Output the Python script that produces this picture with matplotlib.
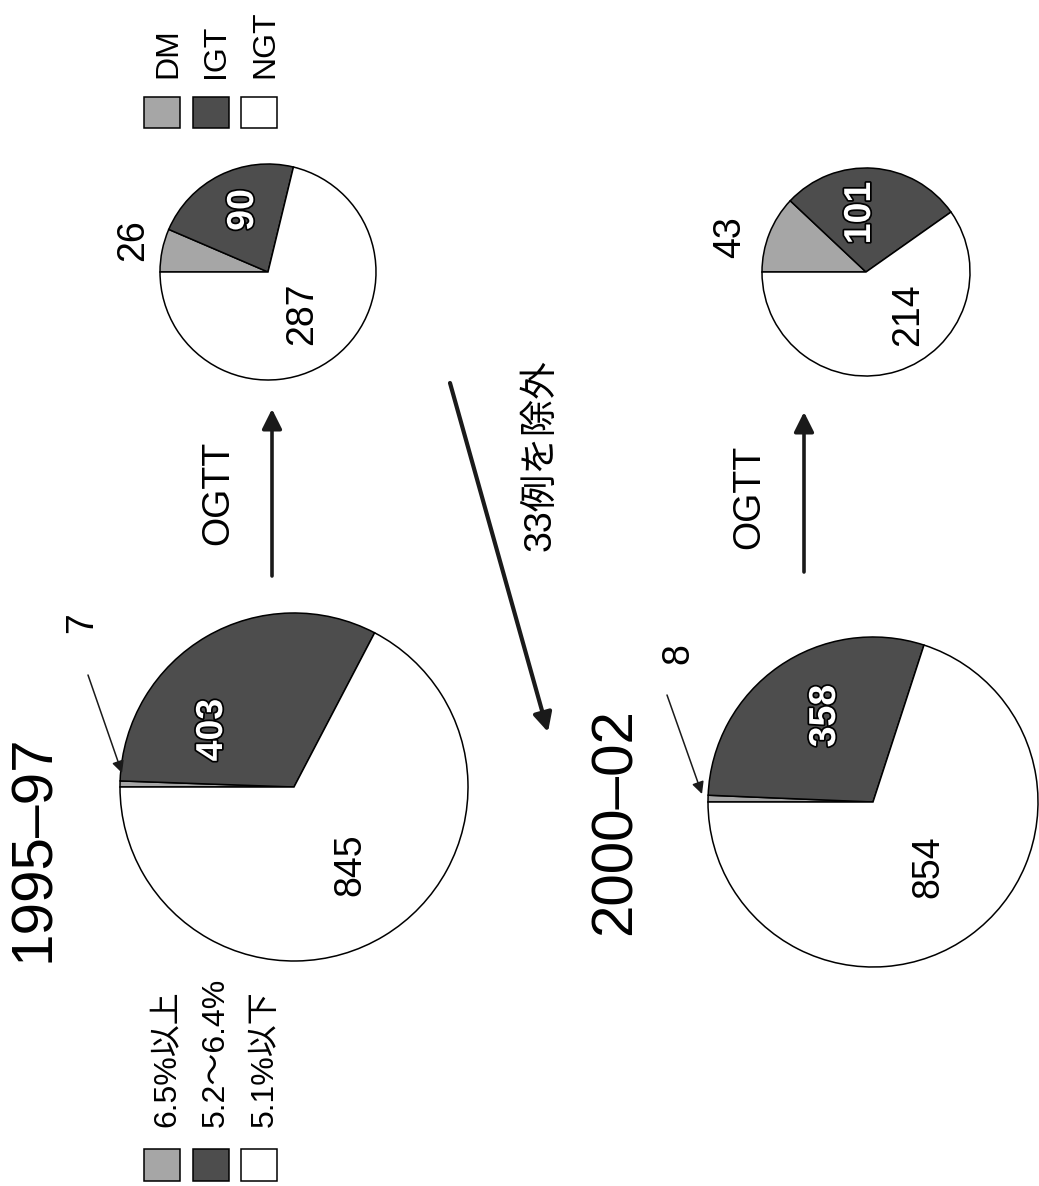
import matplotlib
matplotlib.use("Agg")
import matplotlib.pyplot as plt
import matplotlib.patheffects as pe
from matplotlib.patches import Rectangle

plt.rcParams['font.family'] = ['Liberation Sans', 'Noto Sans CJK JP', 'DejaVu Sans']

# data
categories = ["DM", "IGT", "NGT"]
hba1c_9597 = [7, 403, 845]
ogtt_9597 = [26, 90, 287]
hba1c_0002 = [8, 358, 854]
ogtt_0002 = [43, 101, 214]
hba1c_labels = ["6.5%以上", "5.2〜6.4%", "5.1%以下"]
titles = ["1995–97", "2000–02"]
excluded = "33例を除外"
test_name = "OGTT"

colors = ["#a6a6a6", "#4d4d4d", "#ffffff"]

W, H = 1039, 1186
fig = plt.figure(figsize=(W / 100, H / 100), dpi=100)


def pie_at(vals, cx, cy, r):
    pad = 1.03
    a = fig.add_axes([(cx - r * pad) / W, 1 - (cy + r * pad) / H,
                      2 * r * pad / W, 2 * r * pad / H])
    wedges, _ = a.pie(vals, colors=colors, startangle=180, counterclock=False,
                      wedgeprops=dict(edgecolor="black", linewidth=1.1))
    for w in wedges:
        w.set_clip_on(False)
    a.set_aspect("auto")
    a.set_xlim(-pad, pad)
    a.set_ylim(-pad, pad)
    a.axis("off")
    return a


pie_at(hba1c_9597, 294, 787, 174)
pie_at(ogtt_9597, 268, 272, 108)
pie_at(hba1c_0002, 873, 802, 165)
pie_at(ogtt_0002, 866, 272, 104)

ax = fig.add_axes([0, 0, 1, 1])
ax.set_xlim(0, W)
ax.set_ylim(H, 0)
ax.axis("off")
ax.patch.set_alpha(0)

white = [pe.withStroke(linewidth=2.5, foreground="black")]


def label(x, y, s, dark=False, size=27):
    if dark:
        ax.text(x, y, str(s), rotation=90, ha="center", va="center", fontsize=size,
                color="white", fontweight="bold", path_effects=white)
    else:
        ax.text(x, y, str(s), rotation=90, ha="center", va="center", fontsize=size,
                color="black")


# pie labels
label(82, 623, hba1c_9597[0])
label(212, 730, hba1c_9597[1], dark=True)
label(350, 865, hba1c_9597[2])
label(133, 240, ogtt_9597[0])
label(243, 210, ogtt_9597[1], dark=True)
label(302, 314, ogtt_9597[2])
label(678, 654, hba1c_0002[0])
label(825, 716, hba1c_0002[1], dark=True)
label(928, 867, hba1c_0002[2])
label(730, 237, ogtt_0002[0])
label(860, 213, ogtt_0002[1], dark=True)
label(908, 315, ogtt_0002[2])

# titles
ax.text(34, 848, titles[0], rotation=90, ha="center", va="center", fontsize=42)
ax.text(616, 822, titles[1], rotation=90, ha="center", va="center", fontsize=42)

# arrows
def arrow(x0, y0, x1, y1, lw, ms):
    ax.annotate("", xy=(x1, y1), xytext=(x0, y0),
                arrowprops=dict(arrowstyle="-|>", lw=lw, color="#1a1a1a",
                                mutation_scale=ms, shrinkA=0, shrinkB=0))


arrow(88, 675, 122, 773, 1.1, 18)
arrow(667, 695, 702, 794, 1.1, 18)
arrow(272, 576, 272, 409, 2.6, 30)
arrow(804, 572, 804, 412, 2.6, 30)
arrow(450, 383, 548, 732, 3.0, 28)

ax.text(218, 493, test_name, rotation=90, ha="center", va="center", fontsize=27)
ax.text(749, 497, test_name, rotation=90, ha="center", va="center", fontsize=27)
ax.text(540, 455, excluded, rotation=90, ha="center", va="center", fontsize=27)

# legends
xs = [144, 193, 241]
tx = [168, 216, 265]
for i in range(3):
    ax.add_patch(Rectangle((xs[i], 1149), 36, 32, facecolor=colors[i],
                           edgecolor="black", lw=1.1))
    ax.text(tx[i], 1127, hba1c_labels[i], rotation=90, rotation_mode="anchor",
            ha="left", va="center", fontsize=23)
    ax.add_patch(Rectangle((xs[i], 97), 36, 31, facecolor=colors[i],
                           edgecolor="black", lw=1.1))
    ax.text(tx[i], 78, categories[i], rotation=90, rotation_mode="anchor",
            ha="left", va="center", fontsize=23)

fig.savefig("out.png", dpi=100)
